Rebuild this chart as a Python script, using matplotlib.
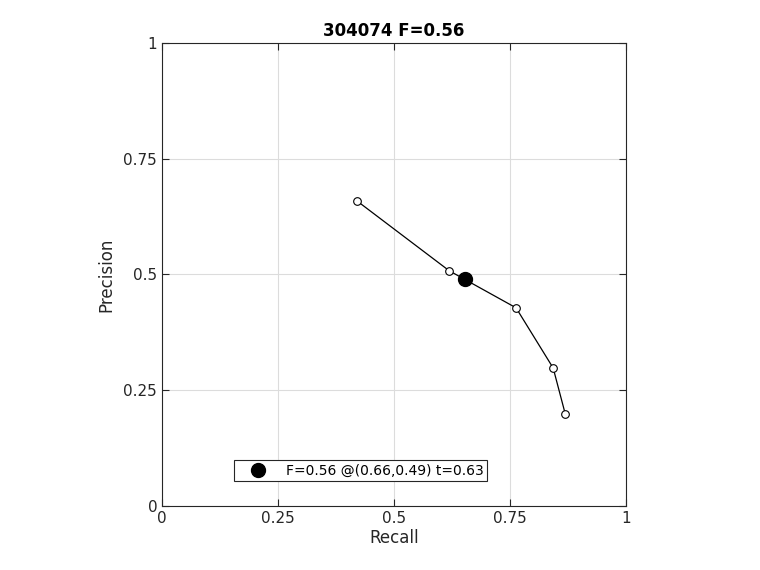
import numpy as np
import matplotlib
matplotlib.use('Agg')
import matplotlib.pyplot as plt

# PR curve points
recall = [0.420, 0.619, 0.763, 0.843, 0.869]
precision = [0.659, 0.508, 0.428, 0.298, 0.199]

# best F point
best_r, best_p = 0.653, 0.490
title = '304074 F=0.56'
best_label = 'F=0.56 @(0.66,0.49) t=0.63'

ticks = [0, 0.25, 0.5, 0.75, 1]
tick_labels = ['0', '0.25', '0.5', '0.75', '1']

fig = plt.figure(figsize=(7.6, 5.7), dpi=100)
ax = fig.add_axes([0.2132, 0.1123, 0.6105, 0.8123])

ax.plot(recall, precision, '-', color='black', lw=0.9)
ax.plot(recall, precision, 'o', mfc='white', mec='black', ms=5.5, mew=0.8, ls='none')
ax.plot([best_r], [best_p], 'o', color='black', ms=10, ls='none', label=best_label)

ax.set_xlim(0, 1)
ax.set_ylim(0, 1)
ax.set_xticks(ticks)
ax.set_xticklabels(tick_labels)
ax.set_yticks(ticks)
ax.set_yticklabels(tick_labels)
ax.tick_params(direction='in', top=True, right=True, length=5, width=0.8,
               labelsize=11, colors='#262626')
ax.grid(True, color='#dcdcdc', lw=0.8)
ax.set_axisbelow(True)
for s in ax.spines.values():
    s.set_color('#262626')
    s.set_linewidth(0.8)

ax.set_xlabel('Recall', fontsize=12, color='#262626', labelpad=2)
ax.set_ylabel('Precision', fontsize=12, color='#262626', labelpad=6)
ax.set_title(title, fontsize=12, fontweight='bold', pad=5)

leg = ax.legend(loc='lower left', bbox_to_anchor=(0.155, 0.054), borderaxespad=0,
                fancybox=False, framealpha=1, edgecolor='#262626', fontsize=10,
                handletextpad=0.5, borderpad=0.25, handlelength=3.0)
leg.get_frame().set_linewidth(0.8)

fig.savefig('out.png', dpi=100)
